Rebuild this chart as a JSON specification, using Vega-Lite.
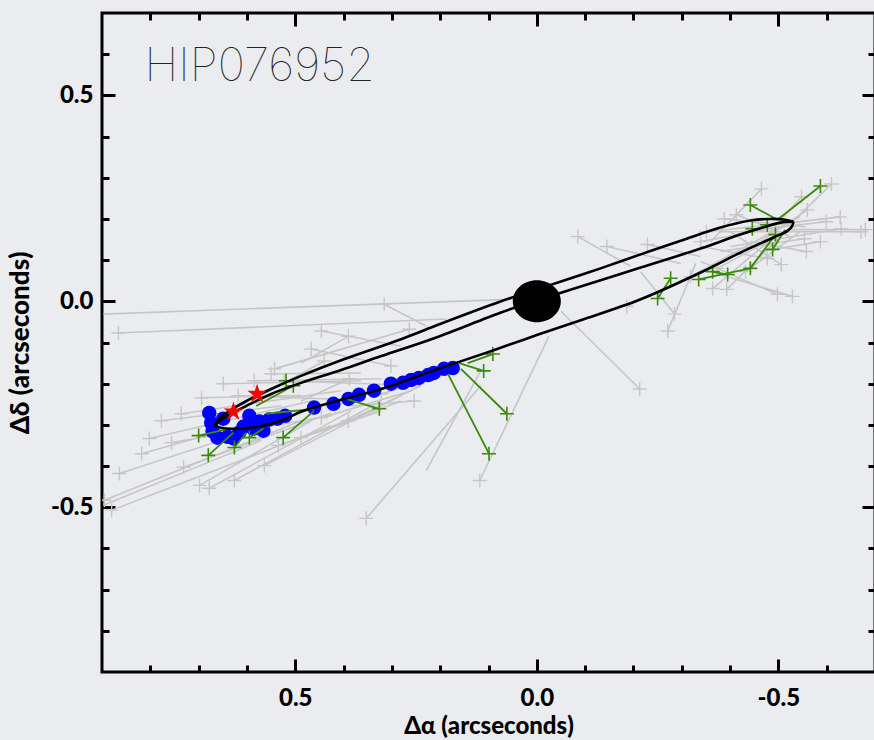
{
  "$schema": "https://vega.github.io/schema/vega-lite/v6.json",
  "width": 773,
  "height": 659,
  "autosize": "none",
  "padding": {"left": 102, "top": 13, "right": 0, "bottom": 68},
  "background": "#eaecef",
  "config": {
    "view": {"stroke": "black", "strokeWidth": 3},
    "axis": {
      "domain": false, "offset": -13, "tickColor": "black", "tickWidth": 3, "tickSize": 13, "tickCap": "butt",
      "tickDash": {"condition": {"test": "abs(datum.value*2-round(datum.value*2))<0.001", "value": [20, 1]}, "value": [0, 6, 7, 20]},
      "labelFont": "Lato", "labelFontWeight": 900, "labelFontSize": 24, "labelColor": "black",
      "titleFont": "Lato", "titleFontWeight": 900, "titleColor": "black",
      "grid": false, "labelOverlap": false, "labelFlush": false, "zindex": 1
    }
  },
  "datasets": {
    "orbit": [
      {"c":"lower","i":0,"x":0.667,"y":-0.302},{"c":"lower","i":1,"x":0.643,"y":-0.309},{"c":"lower","i":2,"x":0.591,"y":-0.307},{"c":"lower","i":3,"x":0.529,"y":-0.290},{"c":"lower","i":4,"x":0.488,"y":-0.268},{"c":"lower","i":5,"x":0.405,"y":-0.239},{"c":"lower","i":6,"x":0.322,"y":-0.213},{"c":"lower","i":7,"x":0.211,"y":-0.167},{"c":"lower","i":8,"x":0.095,"y":-0.121},{"c":"lower","i":9,"x":0.000,"y":-0.082},{"c":"lower","i":10,"x":-0.091,"y":-0.046},{"c":"lower","i":11,"x":-0.215,"y":0.005},{"c":"lower","i":12,"x":-0.339,"y":0.070},{"c":"lower","i":13,"x":-0.421,"y":0.118},{"c":"lower","i":14,"x":-0.490,"y":0.155},{"c":"lower","i":15,"x":-0.519,"y":0.171},{"c":"lower","i":16,"x":-0.529,"y":0.184},{"c":"lower","i":17,"x":-0.531,"y":0.193},
      {"c":"top","i":0,"x":-0.531,"y":0.193},{"c":"top","i":1,"x":-0.514,"y":0.198},{"c":"top","i":2,"x":-0.483,"y":0.200},{"c":"top","i":3,"x":-0.442,"y":0.196},{"c":"top","i":4,"x":-0.380,"y":0.179},{"c":"top","i":5,"x":-0.298,"y":0.147},{"c":"top","i":6,"x":-0.215,"y":0.114},{"c":"top","i":7,"x":-0.132,"y":0.080},{"c":"top","i":8,"x":-0.050,"y":0.048},{"c":"top","i":9,"x":0.000,"y":0.029},{"c":"top","i":10,"x":0.074,"y":0.000},{"c":"top","i":11,"x":0.211,"y":-0.060},{"c":"top","i":12,"x":0.281,"y":-0.092},{"c":"top","i":13,"x":0.405,"y":-0.143},{"c":"top","i":14,"x":0.488,"y":-0.181},{"c":"top","i":15,"x":0.550,"y":-0.213},{"c":"top","i":16,"x":0.601,"y":-0.242},{"c":"top","i":17,"x":0.636,"y":-0.266},{"c":"top","i":18,"x":0.657,"y":-0.285},{"c":"top","i":19,"x":0.667,"y":-0.302},
      {"c":"mid","i":0,"x":-0.531,"y":0.193},{"c":"mid","i":1,"x":-0.504,"y":0.191},{"c":"mid","i":2,"x":-0.473,"y":0.181},{"c":"mid","i":3,"x":-0.421,"y":0.162},{"c":"mid","i":4,"x":-0.339,"y":0.128},{"c":"mid","i":5,"x":-0.215,"y":0.082},{"c":"mid","i":6,"x":-0.132,"y":0.051},{"c":"mid","i":7,"x":0.000,"y":0.002},{"c":"mid","i":8,"x":0.074,"y":-0.027},{"c":"mid","i":9,"x":0.211,"y":-0.089},{"c":"mid","i":10,"x":0.322,"y":-0.133},{"c":"mid","i":11,"x":0.405,"y":-0.167},{"c":"mid","i":12,"x":0.488,"y":-0.198},{"c":"mid","i":13,"x":0.550,"y":-0.225},{"c":"mid","i":14,"x":0.601,"y":-0.254},{"c":"mid","i":15,"x":0.636,"y":-0.275},{"c":"mid","i":16,"x":0.657,"y":-0.290},{"c":"mid","i":17,"x":0.667,"y":-0.302}
    ],
    "gray": [
      {"s":1,"x":0.048,"y":0.005,"p":0},{"s":1,"x":0.897,"y":-0.031,"p":0},
      {"s":2,"x":0.866,"y":-0.077,"p":1},{"s":2,"x":0.188,"y":-0.043,"p":0},
      {"s":3,"x":0.316,"y":-0.007,"p":1},{"s":3,"x":0.229,"y":-0.060,"p":0},
      {"s":4,"x":0.446,"y":-0.072,"p":1},{"s":4,"x":0.281,"y":-0.109,"p":0},
      {"s":5,"x":0.390,"y":-0.085,"p":1},{"s":5,"x":0.488,"y":-0.150,"p":0},
      {"s":6,"x":0.467,"y":-0.116,"p":1},{"s":6,"x":0.302,"y":-0.157,"p":1},
      {"s":7,"x":0.543,"y":-0.164,"p":1},{"s":7,"x":0.264,"y":-0.068,"p":1},
      {"s":8,"x":0.440,"y":-0.145,"p":1},{"s":8,"x":0.570,"y":-0.229,"p":0},
      {"s":9,"x":0.895,"y":-0.483,"p":1},{"s":9,"x":0.488,"y":-0.290,"p":0},
      {"s":10,"x":0.880,"y":-0.507,"p":1},{"s":10,"x":0.426,"y":-0.302,"p":0},
      {"s":11,"x":0.897,"y":-0.495,"p":0},{"s":11,"x":0.570,"y":-0.338,"p":0},
      {"s":12,"x":0.864,"y":-0.418,"p":1},{"s":12,"x":0.529,"y":-0.290,"p":0},
      {"s":13,"x":0.818,"y":-0.370,"p":1},{"s":13,"x":0.508,"y":-0.266,"p":0},
      {"s":14,"x":0.802,"y":-0.333,"p":1},{"s":14,"x":0.467,"y":-0.242,"p":0},
      {"s":15,"x":0.736,"y":-0.273,"p":1},{"s":15,"x":0.405,"y":-0.217,"p":0},
      {"s":16,"x":0.694,"y":-0.234,"p":1},{"s":16,"x":0.488,"y":-0.229,"p":0},
      {"s":17,"x":0.649,"y":-0.200,"p":1},{"s":17,"x":0.364,"y":-0.193,"p":0},
      {"s":18,"x":0.731,"y":-0.403,"p":1},{"s":18,"x":0.426,"y":-0.271,"p":0},
      {"s":19,"x":0.698,"y":-0.447,"p":1},{"s":19,"x":0.467,"y":-0.290,"p":0},
      {"s":20,"x":0.678,"y":-0.454,"p":1},{"s":20,"x":0.384,"y":-0.266,"p":0},
      {"s":21,"x":0.626,"y":-0.435,"p":1},{"s":21,"x":0.322,"y":-0.242,"p":0},
      {"s":22,"x":0.564,"y":-0.399,"p":1},{"s":22,"x":0.281,"y":-0.229,"p":0},
      {"s":23,"x":0.550,"y":-0.176,"p":1},{"s":23,"x":0.364,"y":-0.174,"p":0},
      {"s":24,"x":0.523,"y":-0.193,"p":1},{"s":24,"x":0.240,"y":-0.205,"p":0},
      {"s":25,"x":0.618,"y":-0.229,"p":1},{"s":25,"x":0.426,"y":-0.237,"p":0},
      {"s":26,"x":0.585,"y":-0.193,"p":1},{"s":26,"x":0.322,"y":-0.188,"p":0},
      {"s":27,"x":0.388,"y":-0.188,"p":1},{"s":27,"x":0.488,"y":-0.242,"p":0},
      {"s":28,"x":0.322,"y":-0.225,"p":1},{"s":28,"x":0.219,"y":-0.188,"p":0},
      {"s":29,"x":0.254,"y":-0.242,"p":1},{"s":29,"x":0.384,"y":-0.254,"p":0},
      {"s":30,"x":0.390,"y":-0.290,"p":1},{"s":30,"x":0.240,"y":-0.205,"p":0},
      {"s":31,"x":0.446,"y":-0.283,"p":1},{"s":31,"x":0.260,"y":-0.217,"p":0},
      {"s":32,"x":0.488,"y":-0.331,"p":1},{"s":32,"x":0.281,"y":-0.242,"p":0},
      {"s":33,"x":0.535,"y":-0.350,"p":1},{"s":33,"x":0.322,"y":-0.266,"p":0},
      {"s":34,"x":0.756,"y":-0.343,"p":1},{"s":34,"x":0.426,"y":-0.278,"p":0},
      {"s":35,"x":0.777,"y":-0.290,"p":1},{"s":35,"x":0.529,"y":-0.254,"p":0},
      {"s":36,"x":0.353,"y":-0.527,"p":1},{"s":36,"x":0.116,"y":-0.205,"p":0},
      {"s":37,"x":0.118,"y":-0.435,"p":1},{"s":37,"x":-0.025,"y":-0.085,"p":0},
      {"s":38,"x":0.229,"y":-0.411,"p":0},{"s":38,"x":0.116,"y":-0.169,"p":0},
      {"s":39,"x":-0.213,"y":-0.213,"p":1},{"s":39,"x":-0.050,"y":-0.024,"p":0},
      {"s":40,"x":-0.271,"y":-0.072,"p":1},{"s":40,"x":-0.329,"y":0.092,"p":0},
      {"s":41,"x":-0.285,"y":-0.031,"p":1},{"s":41,"x":-0.215,"y":0.072,"p":0},
      {"s":42,"x":-0.085,"y":0.157,"p":1},{"s":42,"x":-0.194,"y":0.085,"p":0},
      {"s":43,"x":-0.145,"y":0.133,"p":1},{"s":43,"x":-0.298,"y":0.092,"p":0},
      {"s":44,"x":-0.229,"y":0.138,"p":1},{"s":44,"x":-0.339,"y":0.109,"p":0},
      {"s":45,"x":-0.186,"y":-0.012,"p":1},{"s":45,"x":-0.318,"y":0.060,"p":0},
      {"s":46,"x":-0.465,"y":0.273,"p":1},{"s":46,"x":-0.360,"y":0.145,"p":0},
      {"s":47,"x":-0.610,"y":0.285,"p":1},{"s":47,"x":-0.525,"y":0.188,"p":0},
      {"s":48,"x":-0.548,"y":0.254,"p":1},{"s":48,"x":-0.483,"y":0.169,"p":0},
      {"s":49,"x":-0.560,"y":0.222,"p":1},{"s":49,"x":-0.463,"y":0.145,"p":0},
      {"s":50,"x":-0.599,"y":0.193,"p":1},{"s":50,"x":-0.421,"y":0.169,"p":0},
      {"s":51,"x":-0.630,"y":0.176,"p":1},{"s":51,"x":-0.401,"y":0.133,"p":0},
      {"s":52,"x":-0.671,"y":0.169,"p":1},{"s":52,"x":-0.380,"y":0.169,"p":0},
      {"s":53,"x":-0.554,"y":0.152,"p":1},{"s":53,"x":-0.380,"y":0.121,"p":0},
      {"s":54,"x":-0.558,"y":0.121,"p":1},{"s":54,"x":-0.442,"y":0.145,"p":0},
      {"s":55,"x":-0.529,"y":0.012,"p":1},{"s":55,"x":-0.360,"y":0.072,"p":0},
      {"s":56,"x":-0.498,"y":0.017,"p":1},{"s":56,"x":-0.339,"y":0.097,"p":0},
      {"s":57,"x":-0.393,"y":0.029,"p":1},{"s":57,"x":-0.525,"y":0.181,"p":0},
      {"s":58,"x":-0.364,"y":0.031,"p":1},{"s":58,"x":-0.504,"y":0.169,"p":0},
      {"s":59,"x":-0.374,"y":0.080,"p":1},{"s":59,"x":-0.545,"y":0.188,"p":0},
      {"s":60,"x":-0.351,"y":0.169,"p":1},{"s":60,"x":-0.545,"y":0.193,"p":0},
      {"s":61,"x":-0.413,"y":0.210,"p":1},{"s":61,"x":-0.525,"y":0.157,"p":0},
      {"s":62,"x":-0.388,"y":0.200,"p":1},{"s":62,"x":-0.556,"y":0.181,"p":0},
      {"s":63,"x":-0.477,"y":0.104,"p":1},{"s":63,"x":-0.339,"y":0.133,"p":0},
      {"s":64,"x":-0.506,"y":0.089,"p":1},{"s":64,"x":-0.401,"y":0.169,"p":0},
      {"s":65,"x":-0.680,"y":0.174,"p":1},{"s":65,"x":-0.525,"y":0.174,"p":0},
      {"s":66,"x":-0.628,"y":0.205,"p":1},{"s":66,"x":-0.504,"y":0.188,"p":0},
      {"s":67,"x":-0.318,"y":0.060,"p":1},{"s":67,"x":-0.545,"y":0.205,"p":0},
      {"s":68,"x":-0.339,"y":0.145,"p":1},{"s":68,"x":-0.535,"y":0.188,"p":0},
      {"s":69,"x":-0.587,"y":0.145,"p":1},{"s":69,"x":-0.463,"y":0.121,"p":0},
      {"s":70,"x":-0.432,"y":0.072,"p":1},{"s":70,"x":-0.545,"y":0.169,"p":0}
    ],
    "green": [
      {"s":1,"x":-0.587,"y":0.280,"p":1},{"s":1,"x":-0.498,"y":0.198,"p":0},
      {"s":2,"x":-0.442,"y":0.234,"p":1},{"s":2,"x":-0.498,"y":0.198,"p":0},
      {"s":3,"x":-0.494,"y":0.162,"p":1},{"s":3,"x":-0.442,"y":0.080,"p":1},
      {"s":4,"x":-0.488,"y":0.126,"p":1},{"s":4,"x":-0.514,"y":0.174,"p":0},
      {"s":5,"x":-0.442,"y":0.080,"p":0},{"s":5,"x":-0.335,"y":0.053,"p":1},
      {"s":6,"x":-0.395,"y":0.065,"p":1},{"s":6,"x":-0.364,"y":0.072,"p":1},
      {"s":7,"x":-0.277,"y":0.056,"p":1},{"s":7,"x":-0.250,"y":0.007,"p":1},
      {"s":8,"x":-0.446,"y":0.176,"p":1},
      {"s":9,"x":-0.477,"y":0.186,"p":1},
      {"s":10,"x":0.700,"y":-0.326,"p":1},{"s":10,"x":0.636,"y":-0.309,"p":0},
      {"s":11,"x":0.680,"y":-0.374,"p":1},{"s":11,"x":0.628,"y":-0.319,"p":0},
      {"s":12,"x":0.626,"y":-0.355,"p":1},{"s":12,"x":0.601,"y":-0.319,"p":0},
      {"s":13,"x":0.595,"y":-0.331,"p":1},{"s":13,"x":0.566,"y":-0.309,"p":0},
      {"s":14,"x":0.525,"y":-0.331,"p":1},{"s":14,"x":0.461,"y":-0.266,"p":0},
      {"s":15,"x":0.504,"y":-0.205,"p":1},{"s":15,"x":0.581,"y":-0.254,"p":0},
      {"s":16,"x":0.326,"y":-0.261,"p":1},{"s":16,"x":0.395,"y":-0.237,"p":0},
      {"s":17,"x":0.110,"y":-0.169,"p":1},{"s":17,"x":0.161,"y":-0.150,"p":0},
      {"s":18,"x":0.099,"y":-0.370,"p":1},{"s":18,"x":0.184,"y":-0.176,"p":0},
      {"s":19,"x":0.062,"y":-0.273,"p":1},{"s":19,"x":0.157,"y":-0.164,"p":0},
      {"s":20,"x":0.091,"y":-0.128,"p":1},{"s":20,"x":0.143,"y":-0.150,"p":0},
      {"s":21,"x":0.560,"y":-0.273,"p":0},{"s":21,"x":0.461,"y":-0.261,"p":0},
      {"s":22,"x":0.519,"y":-0.193,"p":1}
    ],
    "blue": [
      {"x":0.678,"y":-0.271},{"x":0.674,"y":-0.295},{"x":0.671,"y":-0.316},{"x":0.661,"y":-0.331},{"x":0.649,"y":-0.285},{"x":0.640,"y":-0.329},{"x":0.628,"y":-0.333},{"x":0.616,"y":-0.319},{"x":0.607,"y":-0.304},{"x":0.595,"y":-0.278},{"x":0.587,"y":-0.309},{"x":0.574,"y":-0.292},{"x":0.566,"y":-0.314},{"x":0.554,"y":-0.287},{"x":0.537,"y":-0.285},{"x":0.521,"y":-0.278},{"x":0.461,"y":-0.258},{"x":0.421,"y":-0.249},{"x":0.390,"y":-0.237},{"x":0.368,"y":-0.227},{"x":0.337,"y":-0.217},{"x":0.302,"y":-0.200},{"x":0.277,"y":-0.198},{"x":0.260,"y":-0.191},{"x":0.244,"y":-0.186},{"x":0.225,"y":-0.179},{"x":0.213,"y":-0.174},{"x":0.192,"y":-0.164},{"x":0.174,"y":-0.162}
    ],
    "stars": [{"x":0.628,"y":-0.268},{"x":0.579,"y":-0.225}],
    "center": [{"x":0,"y":0}],
    "label": [{"t":"HIP076952","x":0.812,"y":0.536}]
  },
  "layer": [
    {
      "encoding": {
        "x": {"field":"x","type":"quantitative","title":"Δα (arcseconds)",
          "scale":{"domain":[-0.7,0.9],"reverse":true,"nice":false,"zero":false},
          "axis":{"values":[-0.6,-0.5,-0.4,-0.3,-0.2,-0.1,0,0.1,0.2,0.3,0.4,0.5,0.6,0.7,0.8],
            "labelExpr":"abs(datum.value*2-round(datum.value*2))<0.001 ? replace(format(datum.value,'.1f'),'−','-') : ''",
            "labelPadding":14,"titlePadding":4,"titleFontSize":24}},
        "y": {"field":"y","type":"quantitative","title":"Δδ (arcseconds)",
          "scale":{"domain":[-0.9,0.7],"nice":false,"zero":false},
          "axis":{"values":[-0.8,-0.7,-0.6,-0.5,-0.4,-0.3,-0.2,-0.1,0,0.1,0.2,0.3,0.4,0.5,0.6],
            "labelExpr":"abs(datum.value*2-round(datum.value*2))<0.001 ? replace(format(datum.value,'.1f'),'−','-') : ''",
            "labelPadding":9,"titlePadding":17,"titleFontSize":26}}
      },
      "layer": [
        {"data":{"name":"gray"},"mark":{"type":"line","color":"#c6c6c6","strokeWidth":1.6,"clip":true},"encoding":{"detail":{"field":"s"}}},
        {"data":{"name":"gray"},"transform":[{"filter":"datum.p == 1"}],"mark":{"type":"point","shape":"M-1,0L1,0M0,-1L0,1","filled":false,"stroke":"#c6c6c6","strokeWidth":1.4,"size":196,"opacity":1,"clip":true}},
        {"data":{"name":"blue"},"mark":{"type":"circle","color":"#0000ff","size":210,"opacity":1}},
        {"data":{"name":"green"},"mark":{"type":"line","color":"#3a8a0a","strokeWidth":1.8},"encoding":{"detail":{"field":"s"}}},
        {"data":{"name":"green"},"transform":[{"filter":"datum.p == 1"}],"mark":{"type":"point","shape":"M-1,0L1,0M0,-1L0,1","filled":false,"stroke":"#3a8a0a","strokeWidth":1.6,"size":196,"opacity":1}},
        {"data":{"name":"orbit"},"transform":[{"filter":"datum.c == 'lower'"}],"mark":{"type":"line","color":"black","strokeWidth":2.6,"interpolate":"catmull-rom"},"encoding":{"order":{"field":"i"}}},
        {"data":{"name":"orbit"},"transform":[{"filter":"datum.c == 'top'"}],"mark":{"type":"line","color":"black","strokeWidth":2.6,"interpolate":"catmull-rom"},"encoding":{"order":{"field":"i"}}},
        {"data":{"name":"orbit"},"transform":[{"filter":"datum.c == 'mid'"}],"mark":{"type":"line","color":"black","strokeWidth":2.6,"interpolate":"catmull-rom"},"encoding":{"order":{"field":"i"}}},
        {"data":{"name":"stars"},"mark":{"type":"point","shape":"M0,-1L0.2245,-0.309L0.951,-0.309L0.363,0.118L0.588,0.809L0,0.382L-0.588,0.809L-0.363,0.118L-0.951,-0.309L-0.2245,-0.309Z","filled":true,"color":"#ff0000","size":420,"opacity":1}},
        {"data":{"name":"center"},"mark":{"type":"point","shape":"M-1,0A1,0.875,0,1,0,1,0A1,0.875,0,1,0,-1,0Z","filled":true,"color":"black","size":2304,"opacity":1}},
        {"data":{"name":"label"},"mark":{"type":"text","align":"left","baseline":"alphabetic","font":"Inter","fontWeight":100,"fontSize":46,"color":"#222222"},"encoding":{"text":{"field":"t"}}}
      ]
    },
    {
      "data":{"name":"center"},
      "mark":{"type":"point","opacity":0},
      "encoding": {
        "x": {"field":"x","type":"quantitative","title":null,
          "scale":{"domain":[-0.7,0.9],"reverse":true,"nice":false,"zero":false},
          "axis":{"orient":"top","labels":false,"title":null,"values":[-0.6,-0.5,-0.4,-0.3,-0.2,-0.1,0,0.1,0.2,0.3,0.4,0.5,0.6,0.7,0.8]}},
        "y": {"field":"y","type":"quantitative","title":null,
          "scale":{"domain":[-0.9,0.7],"nice":false,"zero":false},
          "axis":{"orient":"right","labels":false,"title":null,"values":[-0.8,-0.7,-0.6,-0.5,-0.4,-0.3,-0.2,-0.1,0,0.1,0.2,0.3,0.4,0.5,0.6]}}
      }
    }
  ],
  "resolve": {"axis": {"x":"independent","y":"independent"}}
}
